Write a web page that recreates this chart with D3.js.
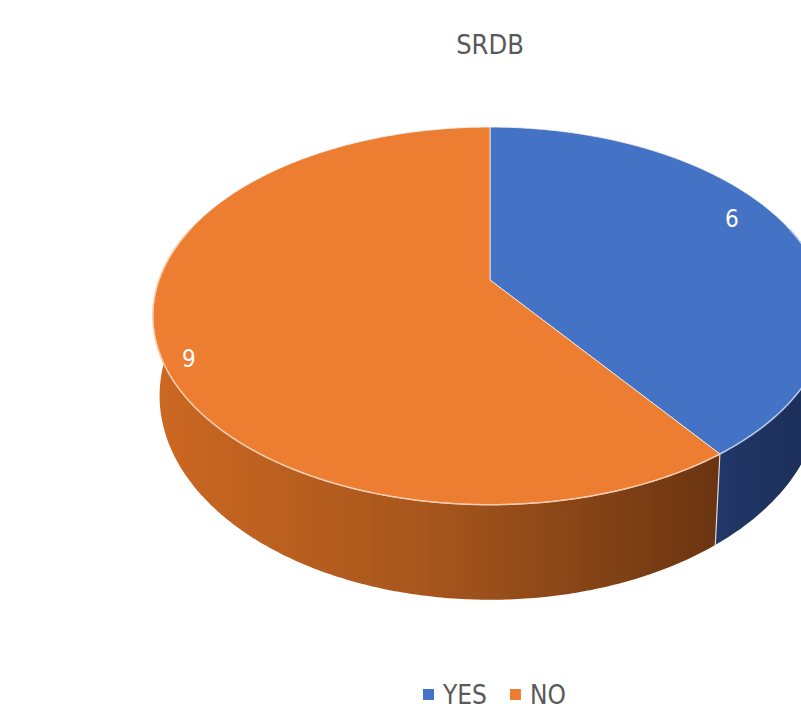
<!DOCTYPE html>
<html>
<head>
<meta charset="utf-8">
<script src="https://cdn.jsdelivr.net/npm/d3@7"></script>
<style>
  body { margin: 0; background: #fff; }
  svg { display: block; }
  text { font-family: "Liberation Sans Narrow", "DejaVu Sans Condensed", sans-serif; }
</style>
</head>
<body>
<svg id="chart"></svg>
<script>
// chart data
const title = "SRDB";
const categories = ["YES", "NO"];
const values = [6, 9];
const topColors = ["#4472C4", "#ED7D31"];
const sideColors = [["#23396B", "#1B2D55"], ["#CC6822", "#A5551C", "#6A3411"]];

// page size
const width = 801;
const height = 711;

const svg = d3.select("#chart")
    .attr("width", width)
    .attr("height", height);

// 3D pie projection settings (perspective tilt)
const cx = 490, cy = 280;     // projected centre of top face
const A = 331, B = 182;       // horizontal / vertical radii
const p = 0.19;               // perspective strength
const depth = 77;             // thickness of the pie
const shrink = 0.98;          // bottom face slightly smaller

const xScale = d3.scaleLinear().domain([-1, 1]).range([cx - A, cx + A]);
const yScale = d3.scaleLinear().domain([-1, 1]).range([cy - B, cy + B]);

function proj(theta, r, bottom) {
    const u = r * Math.sin(theta);
    const v = -r * Math.cos(theta);
    const w = 1 - p * v;
    let x = xScale(u / w);
    let y = yScale(v / w);
    if (bottom) {
        x = cx + (x - cx) * shrink;
        y = y + depth / w;
    }
    return [x, y];
}

function arcPoints(a0, a1, bottom) {
    const n = Math.max(2, Math.ceil((a1 - a0) / 0.01));
    return d3.range(n + 1).map(i => proj(a0 + (a1 - a0) * i / n, 1, bottom));
}

const pie = d3.pie().sort(null).value(d => d);
const arcs = pie(values);
const color = d3.scaleOrdinal().domain(categories).range(topColors);

// gradients for the sides
const defs = svg.append("defs");
sideColors.forEach((stops, i) => {
    const g = defs.append("linearGradient")
        .attr("id", "side" + i)
        .attr("gradientUnits", "userSpaceOnUse")
        .attr("x1", i === 0 ? 700 : cx - A - 5).attr("x2", i === 0 ? 830 : 720)
        .attr("y1", 0).attr("y2", 0);
    stops.forEach((c, j) => g.append("stop")
        .attr("offset", j / (stops.length - 1))
        .attr("stop-color", c));
});

const line = d3.line();

// sides: only the front half is visible
const front0 = Math.PI / 2, front1 = Math.PI * 1.5;
arcs.forEach((a, i) => {
    const s = Math.max(a.startAngle, front0);
    const e = Math.min(a.endAngle, front1);
    if (e <= s) return;
    const pts = arcPoints(s, e, false).concat(arcPoints(s, e, true).reverse());
    svg.append("path")
        .attr("d", line(pts) + "Z")
        .attr("fill", `url(#side${i})`);
});

// vertical edge between slices on the side
arcs.forEach(a => {
    if (a.endAngle > front0 && a.endAngle < front1) {
        svg.append("path")
            .attr("d", line([proj(a.endAngle, 1, false), proj(a.endAngle, 1, true)]))
            .attr("stroke", "#d9d9d9")
            .attr("stroke-width", 1.2)
            .attr("fill", "none");
    }
});

// top faces
arcs.forEach((a, i) => {
    const pts = [proj(0, 0, false)].concat(arcPoints(a.startAngle, a.endAngle, false));
    svg.append("path")
        .attr("d", line(pts) + "Z")
        .attr("fill", color(categories[i]))
        .attr("stroke", "#f2f2f2")
        .attr("stroke-opacity", 0.8)
        .attr("stroke-width", 1);
});

// light rim along the front edge
arcs.forEach((a, i) => {
    const s = Math.max(a.startAngle, front0 - 0.3);
    const e = Math.min(a.endAngle, front1 + 0.3);
    if (e <= s) return;
    svg.append("path")
        .attr("d", line(arcPoints(s, e, false)))
        .attr("fill", "none")
        .attr("stroke", i === 0 ? "#b4c7e7" : "#f8cbad")
        .attr("stroke-width", 1.5);
});

// data labels
arcs.forEach(a => {
    const mid = (a.startAngle + a.endAngle) / 2 - 7 * Math.PI / 180;
    const [x, y] = proj(mid, 0.9, false);
    svg.append("text")
        .attr("x", x - 10).attr("y", y + 4)
        .attr("text-anchor", "middle")
        .attr("dominant-baseline", "central")
        .attr("fill", "#ffffff")
        .attr("font-size", 24)
        .text(a.data);
});

// title
svg.append("text")
    .attr("x", cx)
    .attr("y", 54)
    .attr("text-anchor", "middle")
    .attr("fill", "#595959")
    .attr("font-size", 27)
    .text(title);

// legend
const legend = svg.append("g").attr("transform", "translate(423, 704)");
let lx = 0;
categories.forEach((c, i) => {
    const g = legend.append("g").attr("transform", `translate(${lx}, 0)`);
    g.append("rect")
        .attr("x", 0).attr("y", -15)
        .attr("width", 11).attr("height", 11)
        .attr("fill", color(c));
    const t = g.append("text")
        .attr("x", 20).attr("y", 0)
        .attr("fill", "#595959")
        .attr("font-size", 26)
        .text(c);
    lx += 20 + t.node().getComputedTextLength() + 23;
});
</script>
</body>
</html>
